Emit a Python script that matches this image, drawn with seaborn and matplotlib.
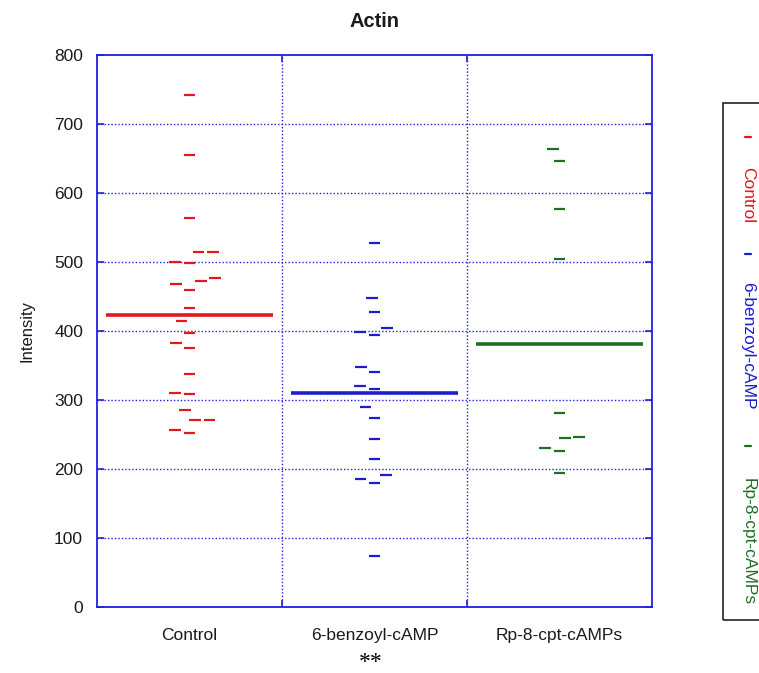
import numpy as np
import pandas as pd
import matplotlib
matplotlib.use("Agg")
import matplotlib.pyplot as plt
import seaborn as sns
from matplotlib.lines import Line2D
from matplotlib.patches import Rectangle

# ---- data ----
groups = ["Control", "6-benzoyl-cAMP", "Rp-8-cpt-cAMPs"]
control = [742, 655, 564, 515, 515, 499, 500, 477, 472, 468, 459, 433, 414,
           397, 382, 375, 337, 310, 308, 286, 271, 271, 257, 252]
benzoyl = [528, 448, 428, 404, 399, 394, 348, 341, 321, 316, 290, 274, 243,
           214, 192, 185, 179, 74]
rp = [664, 646, 577, 504, 281, 247, 245, 230, 226, 194]
yticks = [0, 100, 200, 300, 400, 500, 600, 700, 800]
title = "Actin"
ylabel = "Intensity"
annotation = "**"

colors = ["#e3171c", "#1c1cd0", "#1f6f23"]
axis_blue = "#2020e0"

sns.set_theme(style="white")
plt.rcParams["font.family"] = ["Liberation Sans", "DejaVu Sans"]

df = pd.DataFrame({
    "group": [groups[0]] * len(control) + [groups[1]] * len(benzoyl) + [groups[2]] * len(rp),
    "value": control + benzoyl + rp,
})

W, H = 759, 673
fig = plt.figure(figsize=(W / 100, H / 100), dpi=100)
ax = fig.add_axes([97 / W, 1 - 607 / H, (652 - 97) / W, (607 - 55) / H])

sns.swarmplot(data=df, x="group", y="value", hue="group", order=groups,
              hue_order=groups, palette=colors, marker="_", size=8.5,
              linewidth=1.6, legend=False, ax=ax, zorder=4)

for i, vals in enumerate([control, benzoyl, rp]):
    ax.hlines(np.mean(vals), i - 0.45, i + 0.45, color=colors[i], lw=2.6, zorder=3)

ax.set_xlim(-0.5, 2.5)
ax.set_ylim(0, 800)
ax.set_yticks(yticks)
ax.set_yticklabels([str(t) for t in yticks], fontsize=12.5, color="#1a1a1a")
ax.set_xticks([0, 1, 2])
ax.set_xticklabels(groups, fontsize=12.5, color="#1a1a1a")
ax.set_xticks([0.5, 1.5], minor=True)
ax.tick_params(axis="x", which="major", length=0, pad=15)
ax.tick_params(axis="x", which="minor", direction="in", length=5, width=1.2,
               color=axis_blue, top=True, bottom=True)
ax.tick_params(axis="y", which="major", direction="in", length=5, width=1.2,
               color=axis_blue, left=True, right=True, pad=10)
ax.set_xlabel("")
ax.set_ylabel(ylabel, fontsize=12, labelpad=14, color="#1a1a1a")
ax.set_title(title, fontsize=14.5, fontweight="bold", pad=20, color="#1a1a1a")

for spine in ax.spines.values():
    spine.set_color(axis_blue)
    spine.set_linewidth(1.3)

ax.grid(False)
for t in yticks[1:-1]:
    ax.axhline(t, color=axis_blue, lw=1, ls=(0, (1, 1.5)), zorder=1)
for x in [0.5, 1.5]:
    ax.axvline(x, color=axis_blue, lw=1, ls=(0, (1, 1.5)), zorder=1)

fig.text(371 / W, 1 - 668 / H, annotation, fontsize=17, ha="center", va="baseline",
         family=["Liberation Serif", "DejaVu Serif"], color="black")

# ---- vertical legend on the right ----
fig.patches.append(Rectangle((723 / W, 1 - 620 / H), 0.1, (620 - 103) / H,
                             transform=fig.transFigure, fill=False,
                             ec="#222222", lw=1.2))
marker_y = [137, 254, 446]
text_y = [195, 346, 542]
for name, c, my, ty in zip(groups, colors, marker_y, text_y):
    fig.lines.append(Line2D([745 / W, 751 / W], [1 - my / H] * 2,
                            transform=fig.transFigure, color=c, lw=1.6))
    fig.text(748 / W, 1 - ty / H, name, rotation=270, ha="center", va="center",
             fontsize=12.5, color=c)

fig.savefig("out.png", dpi=100)
